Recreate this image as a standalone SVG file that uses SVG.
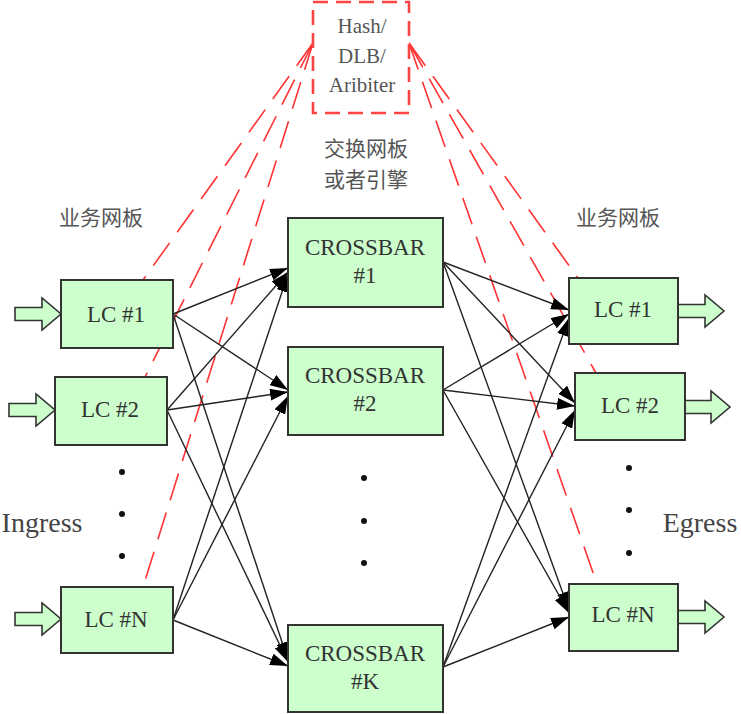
<svg xmlns="http://www.w3.org/2000/svg" width="741" height="714" viewBox="0 0 741 714">
<style>
.box{fill:#ccffcc;stroke:#333;stroke-width:2}
text{font-family:"Liberation Serif","Times New Roman",Times,serif;fill:#333;text-anchor:middle}
text.zh{font-family:"Noto Sans CJK SC","Noto Sans CJK JP",sans-serif;font-size:21px;fill:#555}
.lc{font-size:23px}
.cn{font-size:21px;fill:#555}
.big{font-size:28px;fill:#444}
.con{stroke:#222;stroke-width:1.4;fill:none;marker-end:url(#ah)}
.red{stroke:#ff3333;stroke-width:1.6;fill:none;stroke-dasharray:28 13}
.blk{fill:#ccffcc;stroke:#333;stroke-width:1.6}
.dot{fill:#111}
</style>
<defs>
<marker id="ah" markerUnits="userSpaceOnUse" markerWidth="18" markerHeight="12" refX="18" refY="6" orient="auto">
<path d="M0,0 L18,6 L0,12 z" fill="#000"/>
</marker>
<path id="barrow" d="M-46,-6.5 L-19,-6.5 L-19,-16 L0,0 L-19,16 L-19,6.5 L-46,6.5 z"/>
</defs>

<g id="red-links">
<line class="red" x1="313" y1="43" x2="143" y2="280"/>
<line class="red" x1="313" y1="43" x2="145" y2="377"/>
<line class="red" x1="313" y1="43" x2="143" y2="587"/>
<line class="red" x1="409" y1="43" x2="578" y2="278"/>
<line class="red" x1="409" y1="43" x2="596" y2="373"/>
<line class="red" x1="409" y1="43" x2="597" y2="584"/>
</g>

<g id="hash">
<rect x="313" y="2" width="96" height="111" fill="#fff" stroke="#ff4444" stroke-width="2.6" stroke-dasharray="15 8"/>
<text class="cn" x="362" y="33">Hash/</text>
<text class="cn" x="362" y="63">DLB/</text>
<text class="cn" x="362" y="92">Aribiter</text>
</g>

<g id="labels">
<text class="zh" x="366" y="156">交换网板</text>
<text class="zh" x="366" y="187">或者引擎</text>
<text class="zh" x="101" y="225">业务网板</text>
<text class="zh" x="618" y="225">业务网板</text>
<text class="big" x="42" y="532">Ingress</text>
<text class="big" x="700" y="532">Egress</text>
</g>

<g id="connectors">
<line class="con" x1="173" y1="314" x2="288" y2="268"/>
<line class="con" x1="173" y1="314" x2="288" y2="390"/>
<line class="con" x1="173" y1="314" x2="288" y2="660"/>
<line class="con" x1="167" y1="410" x2="288" y2="272"/>
<line class="con" x1="167" y1="410" x2="288" y2="392"/>
<line class="con" x1="167" y1="410" x2="288" y2="662"/>
<line class="con" x1="173" y1="620" x2="288" y2="274"/>
<line class="con" x1="173" y1="620" x2="288" y2="396"/>
<line class="con" x1="173" y1="620" x2="288" y2="666"/>
<line class="con" x1="443" y1="262" x2="569" y2="310"/>
<line class="con" x1="443" y1="262" x2="575" y2="403"/>
<line class="con" x1="443" y1="262" x2="569" y2="610"/>
<line class="con" x1="443" y1="390" x2="569" y2="314"/>
<line class="con" x1="443" y1="390" x2="575" y2="406"/>
<line class="con" x1="443" y1="390" x2="569" y2="613"/>
<line class="con" x1="443" y1="667" x2="569" y2="318"/>
<line class="con" x1="443" y1="667" x2="575" y2="410"/>
<line class="con" x1="443" y1="667" x2="569" y2="617"/>
</g>

<g id="in1"><use href="#barrow" class="blk" transform="translate(61,314)"/><rect class="box" x="61" y="280" width="112" height="68"/><text class="lc" x="116" y="322">LC #1</text></g>
<g id="in2"><use href="#barrow" class="blk" transform="translate(55,410)"/><rect class="box" x="55" y="377" width="112" height="68"/><text class="lc" x="110" y="417">LC #2</text></g>
<g id="inN"><use href="#barrow" class="blk" transform="translate(61,619)"/><rect class="box" x="61" y="587" width="112" height="66"/><text class="lc" x="116" y="627">LC #N</text></g>

<g id="cb1"><rect class="box" x="288" y="218" width="155" height="89"/><text class="lc" x="365" y="255">CROSSBAR</text><text class="lc" x="365" y="283">#1</text></g>
<g id="cb2"><rect class="box" x="288" y="347" width="155" height="88"/><text class="lc" x="365" y="383">CROSSBAR</text><text class="lc" x="365" y="411">#2</text></g>
<g id="cbK"><rect class="box" x="288" y="625" width="155" height="87"/><text class="lc" x="365" y="661">CROSSBAR</text><text class="lc" x="365" y="689">#K</text></g>

<g id="out1"><use href="#barrow" class="blk" transform="translate(724,311)"/><rect class="box" x="569" y="278" width="109" height="66"/><text class="lc" x="623" y="317">LC #1</text></g>
<g id="out2"><use href="#barrow" class="blk" transform="translate(730,407)"/><rect class="box" x="575" y="373" width="110" height="67"/><text class="lc" x="630" y="413">LC #2</text></g>
<g id="outN"><use href="#barrow" class="blk" transform="translate(724,617)"/><rect class="box" x="569" y="584" width="109" height="67"/><text class="lc" x="623" y="622">LC #N</text></g>

<g id="dots">
<circle class="dot" cx="122" cy="472" r="3"/><circle class="dot" cx="122" cy="514" r="3"/><circle class="dot" cx="122" cy="556" r="3"/>
<circle class="dot" cx="364" cy="478" r="3"/><circle class="dot" cx="364" cy="521" r="3"/><circle class="dot" cx="364" cy="563" r="3"/>
<circle class="dot" cx="629" cy="468" r="3"/><circle class="dot" cx="629" cy="510" r="3"/><circle class="dot" cx="629" cy="553" r="3"/>
</g>
</svg>
